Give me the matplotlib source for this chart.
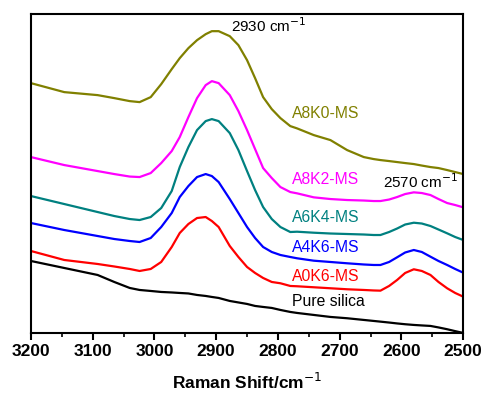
import numpy as np
import matplotlib
matplotlib.use('Agg')
import matplotlib.pyplot as plt
from matplotlib.ticker import MultipleLocator

plt.rcParams['font.family'] = ['Liberation Sans', 'DejaVu Sans']

# Raman shift (cm-1) and intensities (arb. units, stacked)
shift = [3200, 3146, 3092, 3065, 3040, 3024, 3006, 2989, 2972, 2959, 2945, 2931,
         2917, 2907, 2896, 2878, 2864, 2850, 2837, 2824, 2810, 2796, 2780, 2769,
         2742, 2715, 2688, 2661, 2645, 2634, 2620, 2607, 2594, 2580, 2567, 2553,
         2540, 2526, 2513, 2500]

a8k0 = [250, 241, 238, 235, 232, 231, 236, 249, 264, 275, 285, 293,
        299, 302, 302, 297, 288, 273, 255, 236, 224, 215, 207, 204.7,
        198, 193, 183, 176, 174, 173, 172, 171, 170, 169, 167.5, 166,
        165, 163, 161, 159]
a8k2 = [176, 168, 162, 159, 156.5, 156, 160, 170, 182, 196, 216, 235,
        248, 252, 250, 238, 222, 203, 184, 165, 155, 146, 141, 139.7,
        135.7, 134, 133, 132.5, 132, 132, 133.5, 136, 139, 140.7, 140, 138,
        134, 130, 128, 125.7]
a6k4 = [137, 129, 121, 117, 114, 113, 116, 125, 142, 166, 186, 203,
        212, 214, 212, 200, 183, 162, 143, 126, 114, 106, 101, 101.3,
        100.3, 99.5, 99, 98.5, 98, 98, 101, 104.5, 108.5, 110.3, 109.5, 107,
        103.5, 99.7, 96, 93]
a4k6 = [110, 103, 97, 94, 92, 91, 95, 106, 120, 136, 147, 156,
        159, 157, 151, 134, 120, 106, 95, 86, 81, 78, 76, 74.7,
        72.3, 71, 69.7, 68.5, 68, 68, 71, 75.7, 80.5, 83, 81, 76.3,
        72, 68, 64, 60.3]
a0k6 = [82, 73, 69, 66.5, 64, 62, 64, 71, 86, 100, 109, 115,
        116, 112, 106, 87, 76, 66, 60, 55, 51, 49.7, 47, 46.7,
        45.7, 44.7, 43.7, 43, 42.5, 42.3, 47, 53, 60, 63.7, 62, 58,
        51, 44.7, 40, 36.3]
silica = [72, 65, 58, 51, 45, 43, 42, 41, 40.5, 40, 39.5, 38,
          37, 36, 35, 32, 30.5, 29, 27, 26, 25, 23, 21, 20,
          18, 16, 14.7, 13, 12, 11.3, 10.4, 9.5, 8.7, 8, 7.5, 7,
          5.5, 3.7, 1.8, 0]

series = [('A8K0-MS', a8k0, '#808000', 220),
          ('A8K2-MS', a8k2, '#ff00ff', 154),
          ('A6K4-MS', a6k4, '#008080', 116),
          ('A4K6-MS', a4k6, '#0000ff', 85),
          ('A0K6-MS', a0k6, '#ff0000', 56),
          ('Pure silica', silica, '#000000', 31)]

fig = plt.figure(figsize=(4.83, 3.94), dpi=100)
ax = fig.add_axes([0.064, 0.155, 0.895, 0.809])

for name, vals, col, ylab in series:
    ax.plot(shift, vals, color=col, lw=1.6, solid_joinstyle='round')
    ax.text(2777, ylab, name, color=col, fontsize=11.3, ha='left', va='center')

ax.text(2876, 308, '2930 cm$^{-1}$', fontsize=11, ha='left', va='center')
ax.text(2630, 151, '2570 cm$^{-1}$', fontsize=11, ha='left', va='center')

ax.set_xlim(3200, 2500)
ax.set_ylim(0, 319)
ax.set_yticks([])
ax.xaxis.set_major_locator(MultipleLocator(100))
ax.xaxis.set_minor_locator(MultipleLocator(50))
ax.tick_params(axis='x', which='major', direction='out', length=5, width=1.5, pad=3)
ax.tick_params(axis='x', which='minor', direction='out', length=3, width=1.2)
for lab in ax.get_xticklabels():
    lab.set_fontweight('bold')
    lab.set_fontsize(12.5)
for sp in ax.spines.values():
    sp.set_linewidth(1.5)

ax.set_xlabel('Raman Shift/cm$^{-1}$', fontsize=12.5, fontweight='bold', labelpad=9)

fig.savefig('out.png', dpi=100)
